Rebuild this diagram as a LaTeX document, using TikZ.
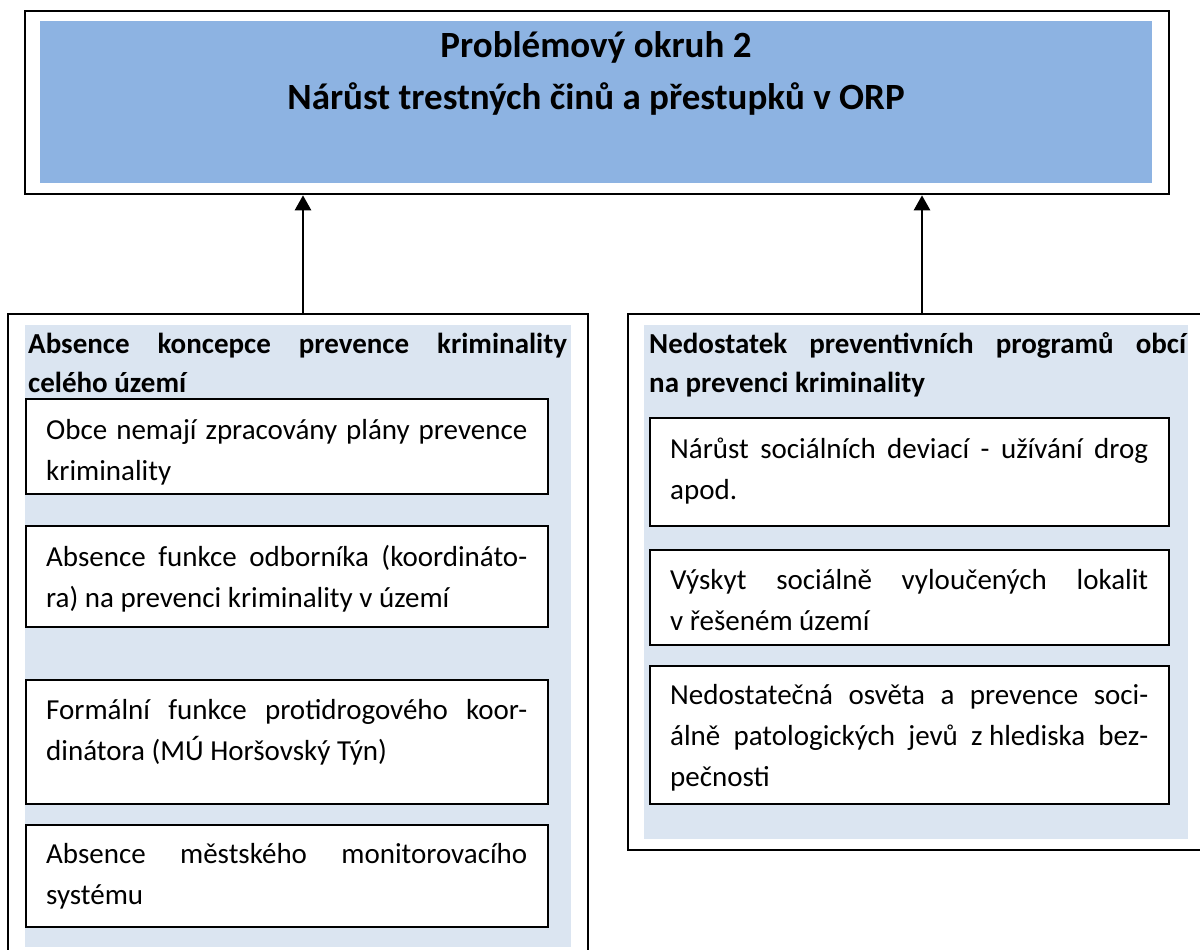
\documentclass[tikz,border=0pt]{standalone}
\usepackage{fontspec}
\setmainfont{Carlito}
\usetikzlibrary{arrows.meta,calc}
\definecolor{topblue}{RGB}{141,179,226}
\definecolor{lightblue}{RGB}{219,229,241}
\newcommand\titlefont{\fontsize{37}{52}\selectfont\bfseries}
\newcommand\headfont{\fontsize{29}{39}\selectfont\bfseries}
\newcommand\bodyfont{\fontsize{29}{41}\selectfont}
\tikzset{
  frame/.style={draw=black, line width=2.3pt, anchor=north west, inner sep=0pt},
  fillbox/.style={fill=#1, draw=none, anchor=north west, inner sep=0pt},
  itembox/.style={draw=black, fill=white, line width=2.2pt, anchor=north west, inner sep=0pt, minimum width=522pt},
  ritembox/.style={itembox, minimum width=519pt},
  itemtext/.style={anchor=north west, inner sep=0pt, text width=481pt, align=justify, font=\bodyfont},
  ritemtext/.style={itemtext, text width=478pt},
  headtext/.style={anchor=north west, inner sep=0pt, text width=#1, align=justify, font=\headfont},
  conn/.style={line width=2.6pt, -{Triangle[length=15pt,width=16pt]}}
}
\begin{document}
\begin{tikzpicture}[x=1pt,y=-1pt]
\useasboundingbox (0,0) rectangle (1200,950);
\clip (0,0) rectangle (1200,950);
\fill[white] (0,0) rectangle (1200,950);
% top problem box
\node[frame, minimum width=1144pt, minimum height=183pt] (topbox) at (24,10) {};
\node[fillbox=topblue, minimum width=1112pt, minimum height=162pt] (topfill) at (40,21) {};
\node[anchor=north, inner sep=0pt, align=center, font=\titlefont] (title) at (596,20.6)
  {\strut Problémový okruh 2\\ Nárůst trestných činů a přestupků v ORP};
% left cause box
\node[frame, minimum width=580pt, minimum height=680pt] (lbox) at (7,313) {};
\node[fillbox=lightblue, minimum width=546pt, minimum height=622pt] (lfill) at (25,325) {};
\node[headtext=539pt] (lhead) at (28,326)
  {\strut Absence koncepce prevence kriminality\linebreak celého území};
% right cause box
\node[frame, minimum width=603pt, minimum height=536pt] (rbox) at (627,313) {};
\node[fillbox=lightblue, minimum width=544pt, minimum height=514pt] (rfill) at (644,325) {};
\node[headtext=537pt] (rhead) at (649,326)
  {\strut Nedostatek preventivních programů obcí\linebreak na prevenci kriminality};
% left items
\node[itembox, minimum height=95pt] (lb1) at (25,398) {};
\node[itemtext] (lt1) at ([shift={(21,13)}]lb1.north west)
  {\strut Obce nemají zpracovány plány prevence\linebreak kriminality};
\node[itembox, minimum height=101pt] (lb2) at (25,525) {};
\node[itemtext] (lt2) at ([shift={(21,13)}]lb2.north west)
  {\strut Absence funkce odborníka (koordináto-\linebreak ra) na prevenci kriminality v území};
\node[itembox, minimum height=124pt] (lb3) at (25,679) {};
\node[itemtext] (lt3) at ([shift={(21,12)}]lb3.north west)
  {\strut Formální funkce protidrogového koor-\linebreak dinátora (MÚ Horšovský Týn)};
\node[itembox, minimum height=102pt] (lb4) at (25,824) {};
\node[itemtext] (lt4) at ([shift={(21,11)}]lb4.north west)
  {\strut Absence městského monitorovacího\linebreak systému};
% right items
\node[ritembox, minimum height=108pt] (rb1) at (649,417) {};
\node[ritemtext] (rt1) at ([shift={(21,13)}]rb1.north west)
  {\strut Nárůst sociálních deviací - užívání drog\linebreak apod.};
\node[ritembox, minimum height=95pt] (rb2) at (649,549) {};
\node[ritemtext] (rt2) at ([shift={(21,12)}]rb2.north west)
  {\strut Výskyt sociálně vyloučených lokalit\linebreak v řešeném území};
\node[ritembox, minimum height=138pt] (rb3) at (649,665) {};
\node[ritemtext] (rt3) at ([shift={(21,11)}]rb3.north west)
  {\strut Nedostatečná osvěta a prevence soci-\linebreak álně patologických jevů \hbox{z hlediska} bez-\linebreak pečnosti};
% connectors
\coordinate (a1) at (303,0);
\coordinate (a2) at (922,0);
\draw[conn] (a1 |- lbox.north) -- (a1 |- topbox.south);
\draw[conn] (a2 |- rbox.north) -- (a2 |- topbox.south);
\end{tikzpicture}
\end{document}
